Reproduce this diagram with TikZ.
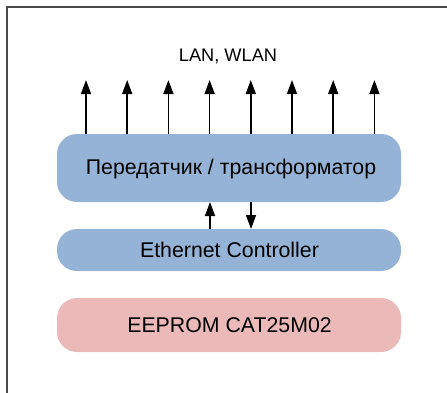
\documentclass[tikz,border=0pt]{standalone}
\usepackage{fontspec}
\setmainfont{Liberation Sans}
\usetikzlibrary{arrows.meta}
\definecolor{boxblue}{HTML}{95B3D7}
\definecolor{boxpink}{HTML}{EBBAB8}
\definecolor{framegray}{HTML}{4A4A4A}
\tikzset{
  sig/.style={line width=1.5pt, -{Triangle[length=14pt,width=10pt]}},
  lbl/.style={font=\fontsize{21.3}{25}\selectfont, text=black}
}
\begin{document}
\begin{tikzpicture}[x=1pt,y=-1pt]
\useasboundingbox (0,0) rectangle (447,392);
% outer frame, runs off the right and bottom edges
\draw[framegray, line width=1.8pt] (7,400) -- (7,7) -- (460,7);

% blocks
\fill[boxblue, rounded corners=20pt] (57,134) rectangle (401,202);
\node[lbl] (trx) at (231,169) {Передатчик / трансформатор};

\fill[boxblue, rounded corners=20pt] (57,229) rectangle (401,271);
\node[lbl] (eth) at (229.5,249.5) {Ethernet Controller};

\fill[boxpink, rounded corners=20pt] (57,298) rectangle (401,352);
\node[lbl] (eeprom) at (229.5,325.5) {EEPROM CAT25M02};

\node[lbl, font=\fontsize{18.2}{22}\selectfont] (lan) at (228,56) {LAN, WLAN};

% line outputs
\foreach \i in {0,...,7}{
  \coordinate (b\i) at ({86+41.2*\i},134);
  \coordinate (t\i) at ({86+41.2*\i},80);
  \draw[sig] (b\i) -- (t\i);
}

% controller <-> transceiver
\coordinate (up1) at (210,229);
\coordinate (up2) at (210,202);
\coordinate (dn1) at (251,202);
\coordinate (dn2) at (251,229);
\draw[sig] (up1) -- (up2);
\draw[sig] (dn1) -- (dn2);
\end{tikzpicture}
\end{document}
